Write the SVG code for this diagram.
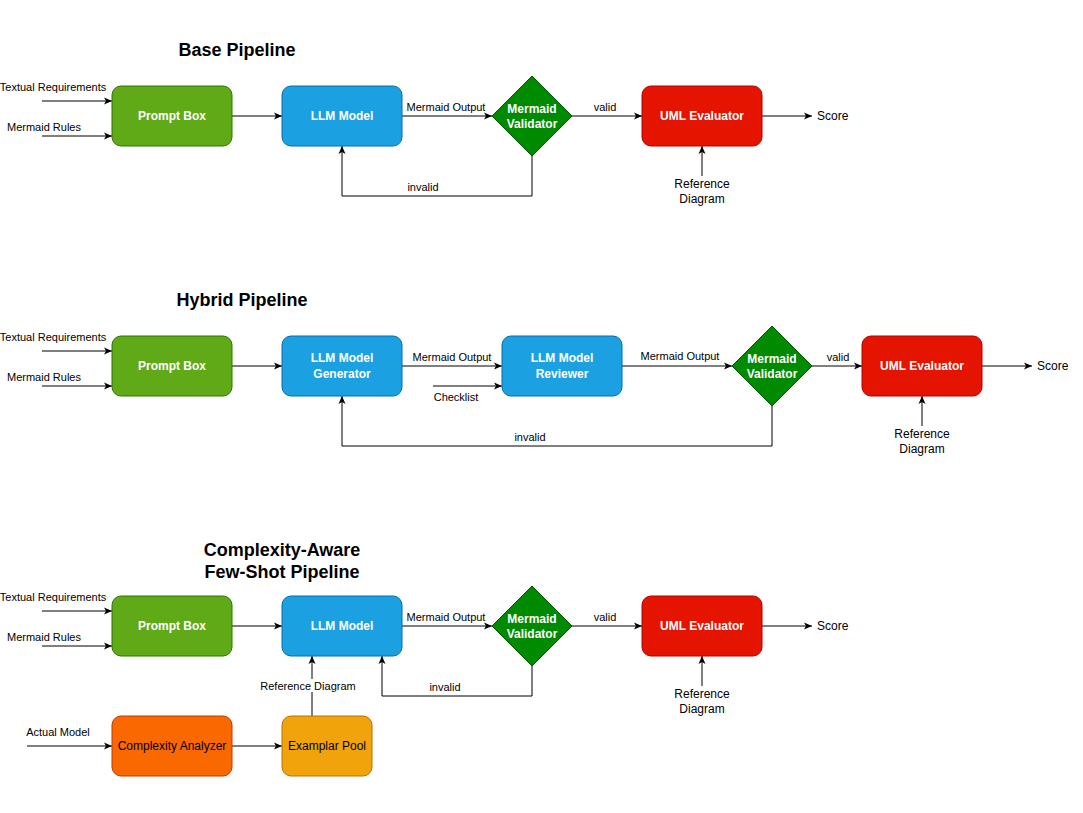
<svg xmlns="http://www.w3.org/2000/svg" width="1083" height="813" viewBox="0 0 1083 813">
<style>
text{font-family:"Liberation Sans",Arial,sans-serif;fill:#000}
.t{font-size:18px;font-weight:bold;text-anchor:middle}
.lbl{font-size:11px;text-anchor:middle}
.lg{font-size:12px;text-anchor:middle}
.nl{font-size:12px;font-weight:bold;fill:#fff;text-anchor:middle}
.nb{font-size:12px;fill:#000;text-anchor:middle}
.e{fill:none;stroke:#000;stroke-width:1;marker-end:url(#a)}
.green{fill:#60a917;stroke:#2d7600}
.blue{fill:#1ba1e2;stroke:#006eaf}
.dg{fill:#008a00;stroke:#005700}
.red{fill:#e51400;stroke:#b20000}
.orange{fill:#fa6800;stroke:#c73500}
.amber{fill:#f0a30a;stroke:#bd7000}
</style>
<defs>
<marker id="a" viewBox="0 0 10 10" refX="9" refY="5" markerWidth="10" markerHeight="10" markerUnits="userSpaceOnUse" orient="auto">
<path d="M1,1.5 L9,5 L1,8.5 L3,5 Z" fill="#000"/>
</marker>
</defs>
<rect width="1083" height="813" fill="#fff"/>

<g id="titles">
<text class="t" x="237" y="56">Base Pipeline</text>
<text class="t" x="242" y="306">Hybrid Pipeline</text>
<text class="t" x="282" y="556">Complexity-Aware</text>
<text class="t" x="282" y="578">Few-Shot Pipeline</text>
</g>

<g id="connectors">
<line class="e" x1="42" y1="101" x2="112" y2="101"/>
<line class="e" x1="42" y1="136" x2="112" y2="136"/>
<line class="e" x1="232" y1="116" x2="282" y2="116"/>
<line class="e" x1="402" y1="116" x2="492" y2="116"/>
<line class="e" x1="572" y1="116" x2="642" y2="116"/>
<line class="e" x1="762" y1="116" x2="812" y2="116"/>
<line class="e" x1="702" y1="176" x2="702" y2="146"/>
<polyline class="e" points="532,156 532,196 342,196 342,146"/>
<line class="e" x1="42" y1="351" x2="112" y2="351"/>
<line class="e" x1="42" y1="386" x2="112" y2="386"/>
<line class="e" x1="232" y1="366" x2="282" y2="366"/>
<line class="e" x1="402" y1="366" x2="502" y2="366"/>
<line class="e" x1="433" y1="386" x2="502" y2="386"/>
<line class="e" x1="622" y1="366" x2="732" y2="366"/>
<line class="e" x1="812" y1="366" x2="862" y2="366"/>
<line class="e" x1="982" y1="366" x2="1032" y2="366"/>
<line class="e" x1="922" y1="426" x2="922" y2="396"/>
<polyline class="e" points="772,406 772,446 342,446 342,396"/>
<line class="e" x1="42" y1="611" x2="112" y2="611"/>
<line class="e" x1="42" y1="646" x2="112" y2="646"/>
<line class="e" x1="232" y1="626" x2="282" y2="626"/>
<line class="e" x1="402" y1="626" x2="492" y2="626"/>
<line class="e" x1="572" y1="626" x2="642" y2="626"/>
<line class="e" x1="762" y1="626" x2="812" y2="626"/>
<line class="e" x1="702" y1="686" x2="702" y2="656"/>
<polyline class="e" points="532,666 532,696 382,696 382,656"/>
<line class="e" x1="27" y1="746" x2="112" y2="746"/>
<line class="e" x1="232" y1="746" x2="282" y2="746"/>
<line class="e" x1="312" y1="716" x2="312" y2="656"/>
</g>

<g id="edge-labels">
<text class="lbl" x="53" y="91">Textual Requirements</text>
<text class="lbl" x="44" y="131">Mermaid Rules</text>
<text class="lbl" x="446" y="111">Mermaid Output</text>
<text class="lbl" x="605" y="111">valid</text>
<text class="lbl" x="423" y="191">invalid</text>
<text class="lg" x="817" y="120" style="text-anchor:start">Score</text>
<text class="lg" x="702" y="188">Reference</text>
<text class="lg" x="702" y="203">Diagram</text>

<text class="lbl" x="53" y="341">Textual Requirements</text>
<text class="lbl" x="44" y="381">Mermaid Rules</text>
<text class="lbl" x="452" y="361">Mermaid Output</text>
<text class="lbl" x="456" y="401">Checklist</text>
<text class="lbl" x="680" y="360">Mermaid Output</text>
<text class="lbl" x="838" y="361">valid</text>
<text class="lbl" x="530" y="441">invalid</text>
<text class="lg" x="1037" y="370" style="text-anchor:start">Score</text>
<text class="lg" x="922" y="438">Reference</text>
<text class="lg" x="922" y="453">Diagram</text>

<text class="lbl" x="53" y="601">Textual Requirements</text>
<text class="lbl" x="44" y="641">Mermaid Rules</text>
<text class="lbl" x="446" y="621">Mermaid Output</text>
<text class="lbl" x="605" y="621">valid</text>
<text class="lbl" x="445" y="691">invalid</text>
<text class="lg" x="817" y="630" style="text-anchor:start">Score</text>
<text class="lg" x="702" y="698">Reference</text>
<text class="lg" x="702" y="713">Diagram</text>
<text class="lbl" x="58" y="736">Actual Model</text>
<rect x="259" y="679" width="98" height="13" fill="#fff"/>
<text class="lbl" x="308" y="690">Reference Diagram</text>
</g>

<g id="base-prompt"><rect class="green" x="112" y="86" width="120" height="60" rx="9"/><text class="nl" x="172" y="120">Prompt Box</text></g>
<g id="base-llm"><rect class="blue" x="282" y="86" width="120" height="60" rx="9"/><text class="nl" x="342" y="120">LLM Model</text></g>
<g id="base-validator"><polygon class="dg" points="532,76 572,116 532,156 492,116"/><text class="nl" x="532" y="113">Mermaid</text><text class="nl" x="532" y="128">Validator</text></g>
<g id="base-uml"><rect class="red" x="642" y="86" width="120" height="60" rx="9"/><text class="nl" x="702" y="120">UML Evaluator</text></g>

<g id="hyb-prompt"><rect class="green" x="112" y="336" width="120" height="60" rx="9"/><text class="nl" x="172" y="370">Prompt Box</text></g>
<g id="hyb-generator"><rect class="blue" x="282" y="336" width="120" height="60" rx="9"/><text class="nl" x="342" y="362">LLM Model</text><text class="nl" x="342" y="378">Generator</text></g>
<g id="hyb-reviewer"><rect class="blue" x="502" y="336" width="120" height="60" rx="9"/><text class="nl" x="562" y="362">LLM Model</text><text class="nl" x="562" y="378">Reviewer</text></g>
<g id="hyb-validator"><polygon class="dg" points="772,326 812,366 772,406 732,366"/><text class="nl" x="772" y="363">Mermaid</text><text class="nl" x="772" y="378">Validator</text></g>
<g id="hyb-uml"><rect class="red" x="862" y="336" width="120" height="60" rx="9"/><text class="nl" x="922" y="370">UML Evaluator</text></g>

<g id="ca-prompt"><rect class="green" x="112" y="596" width="120" height="60" rx="9"/><text class="nl" x="172" y="630">Prompt Box</text></g>
<g id="ca-llm"><rect class="blue" x="282" y="596" width="120" height="60" rx="9"/><text class="nl" x="342" y="630">LLM Model</text></g>
<g id="ca-validator"><polygon class="dg" points="532,586 572,626 532,666 492,626"/><text class="nl" x="532" y="623">Mermaid</text><text class="nl" x="532" y="638">Validator</text></g>
<g id="ca-uml"><rect class="red" x="642" y="596" width="120" height="60" rx="9"/><text class="nl" x="702" y="630">UML Evaluator</text></g>
<g id="ca-analyzer"><rect class="orange" x="112" y="716" width="120" height="60" rx="9"/><text class="nb" x="172" y="750">Complexity Analyzer</text></g>
<g id="ca-pool"><rect class="amber" x="282" y="716" width="90" height="60" rx="9"/><text class="nb" x="327" y="750">Examplar Pool</text></g>
</svg>
